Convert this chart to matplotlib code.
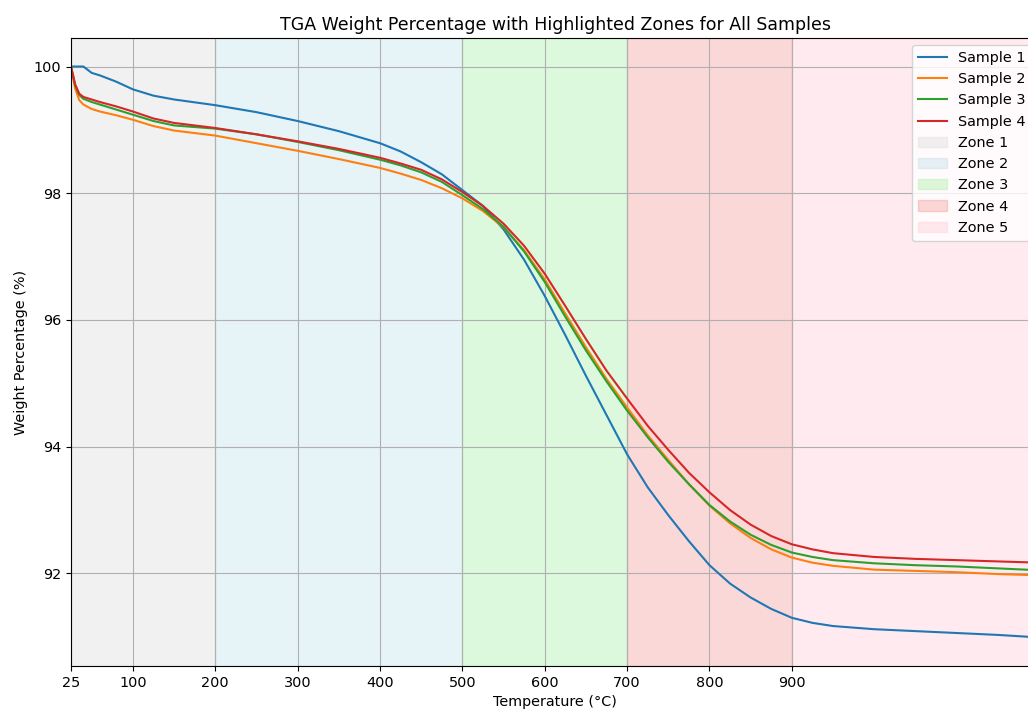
import matplotlib
matplotlib.use('Agg')
import matplotlib.pyplot as plt

plt.rcParams['font.size'] = 10.4

# temperature grid (°C) shared by all samples
temp = [25, 30, 35, 40, 50, 60, 80, 100, 125, 150, 200, 250, 300, 350, 400,
        425, 450, 475, 500, 525, 550, 575, 600, 625, 650, 675, 700, 725, 750,
        775, 800, 825, 850, 875, 900, 925, 950, 1000, 1050, 1100, 1150, 1200]

sample1 = [100.0, 100.0, 100.0, 100.0, 99.90, 99.86, 99.76, 99.64, 99.54, 99.48,
           99.39, 99.28, 99.14, 98.98, 98.79, 98.66, 98.49, 98.30, 98.05, 97.80,
           97.43, 96.95, 96.38, 95.76, 95.12, 94.50, 93.88, 93.36, 92.92, 92.51,
           92.13, 91.84, 91.62, 91.44, 91.30, 91.22, 91.17, 91.12, 91.09, 91.06,
           91.03, 90.99]
sample2 = [100.0, 99.65, 99.47, 99.40, 99.33, 99.29, 99.23, 99.16, 99.06, 98.99,
           98.91, 98.79, 98.67, 98.54, 98.40, 98.31, 98.21, 98.08, 97.92, 97.72,
           97.46, 97.10, 96.64, 96.10, 95.57, 95.07, 94.62, 94.18, 93.79, 93.41,
           93.07, 92.79, 92.56, 92.38, 92.25, 92.17, 92.12, 92.06, 92.04, 92.02,
           91.99, 91.97]
sample3 = [100.0, 99.70, 99.55, 99.49, 99.44, 99.40, 99.32, 99.24, 99.14, 99.07,
           99.02, 98.93, 98.81, 98.68, 98.53, 98.44, 98.33, 98.18, 97.97, 97.75,
           97.47, 97.08, 96.60, 96.05, 95.52, 95.03, 94.57, 94.15, 93.76, 93.41,
           93.08, 92.82, 92.61, 92.45, 92.33, 92.26, 92.21, 92.16, 92.13, 92.11,
           92.08, 92.05]
sample4 = [100.0, 99.72, 99.57, 99.52, 99.48, 99.44, 99.37, 99.29, 99.18, 99.11,
           99.03, 98.93, 98.82, 98.70, 98.56, 98.47, 98.37, 98.22, 98.02, 97.80,
           97.52, 97.17, 96.73, 96.22, 95.70, 95.20, 94.76, 94.33, 93.95, 93.59,
           93.28, 93.00, 92.77, 92.59, 92.46, 92.38, 92.32, 92.26, 92.23, 92.21,
           92.19, 92.17]

samples = [sample1, sample2, sample3, sample4]
sample_names = ['Sample 1', 'Sample 2', 'Sample 3', 'Sample 4']

zone_edges = [(25, 200), (200, 500), (500, 700), (700, 900), (900, 1200)]
zone_names = ['Zone 1', 'Zone 2', 'Zone 3', 'Zone 4', 'Zone 5']
zone_colors = ['lightgray', 'lightblue', 'lightgreen', 'lightcoral', 'pink']

xticks = [25, 100, 200, 300, 400, 500, 600, 700, 800, 900]

fig = plt.figure(figsize=(10.28, 7.11), dpi=100)
ax = fig.add_axes([0.0691, 0.0633, 0.9416, 0.8833])

for y, name in zip(samples, sample_names):
    ax.plot(temp, y, label=name)

for (start, end), name, color in zip(zone_edges, zone_names, zone_colors):
    ax.axvspan(start, end, color=color, alpha=0.3, label=name)

ax.set_xlim(25, 1200)
ax.set_xticks(xticks)
ax.set_title('TGA Weight Percentage with Highlighted Zones for All Samples')
ax.set_xlabel('Temperature (°C)')
ax.set_ylabel('Weight Percentage (%)')
ax.grid(True)
ax.legend(loc='upper right')

fig.savefig('out.png', dpi=100)
